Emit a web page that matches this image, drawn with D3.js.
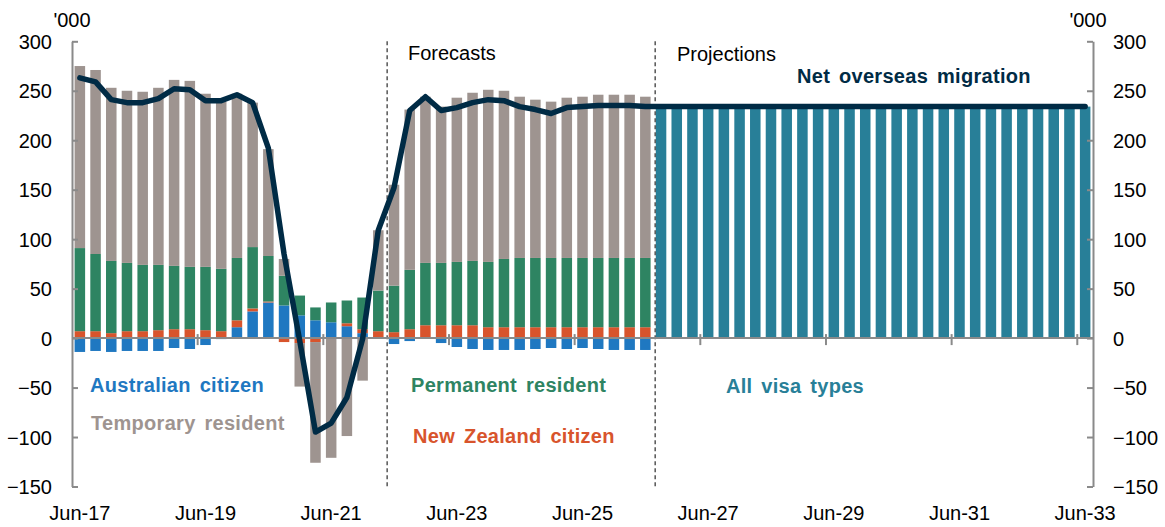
<!DOCTYPE html>
<html>
<head>
<meta charset="utf-8">
<script src="https://cdn.jsdelivr.net/npm/d3@7"></script>
<style>
  body { margin: 0; background: #fff; }
  text { font-family: "Liberation Sans", Arial, sans-serif; }
</style>
</head>
<body>
<div id="chart"></div>
<script>
// quarterly categories, Jun-17 .. Jun-33
var months = ["Jun", "Sep", "Dec", "Mar"]
var categories = []
for (var i = 0; i < 65; i++) {
  categories.push(months[i % 4] + "-" + (17 + Math.floor((i + 1) / 4)))
}
var xTickLabels = ["Jun-17", "Jun-19", "Jun-21", "Jun-23", "Jun-25", "Jun-27", "Jun-29", "Jun-31", "Jun-33"]
var yTicks = [-150, -100, -50, 0, 50, 100, 150, 200, 250, 300]

// components by visa type, '000 (Jun-17 .. Jun-26)
var ausCitizen = [-14, -13, -14, -13, -13, -13, -10, -11, -7, -1, 11, 27, 36, 33, 23, 18, 16, 12, 5, 0,
  -6, -3, 0, -5, -9, -11, -12, -12, -12, -11, -10, -11, -10, -11, -12, -12, -12]
var nzCitizen = [7, 7, 5, 7, 7, 8, 9, 9, 8, 7, 7, 3, 1, -4, -5, -4, 0, 3, 4, 7,
  6, 9, 13, 13, 13, 13, 11, 11, 11, 11, 11, 11, 11, 11, 11, 11, 11]
var permanent = [84, 78, 73, 69, 67, 66, 64, 63, 64, 63, 63, 62, 46, 30, 20, 13, 20, 23, 32, 41,
  47, 60, 63, 63, 64, 65, 66, 69, 70, 70, 70, 70, 70, 70, 70, 70, 70]
var temporary = [184, 186, 175, 174, 175, 179, 188, 188, 175, 169, 166, 146, 108, 17, -44, -122, -121, -99, -43, 61,
  102, 162, 168, 158, 166, 170, 174, 170, 163, 160, 158, 162, 163, 165, 165, 165, 163]
// projections, all visa types (Sep-26 .. Jun-33)
var allVisa = [234, 234, 234, 234, 234, 234, 234, 234, 234, 234, 234, 234, 234, 234,
  234, 234, 234, 234, 234, 234, 234, 234, 234, 234, 234, 234, 234, 234]
// net overseas migration line
var nom = [263, 259, 241, 238, 238, 242, 252, 251, 240, 240, 246, 238, 192, 85, -3, -95, -86, -60, -1, 109,
  152, 230, 244, 230, 233, 238, 241, 240, 234, 231, 227, 233, 234, 235, 235, 235, 234,
  234, 234, 234, 234, 234, 234, 234, 234, 234, 234, 234, 234, 234, 234,
  234, 234, 234, 234, 234, 234, 234, 234, 234, 234, 234, 234, 234, 234]

var nHist = ausCitizen.length
var rows = categories.map(function(c, i) {
  return {
    cat: c,
    aus: i < nHist ? ausCitizen[i] : 0,
    nz: i < nHist ? nzCitizen[i] : 0,
    perm: i < nHist ? permanent[i] : 0,
    temp: i < nHist ? temporary[i] : 0,
    all: i >= nHist ? allVisa[i - nHist] : 0
  }
})

var colors = {aus: "#1f78c1", nz: "#d8542c", perm: "#2e8462", temp: "#9e9490", all: "#287f98"}
var axisGrey = "#8a8a8a"
var navy = "#002b45"

var width = 1165, height = 527
var left = 72, right = 1093

var svg = d3.select("#chart").append("svg")
    .attr("width", width)
    .attr("height", height)

var x = d3.scaleBand()
    .domain(categories)
    .range([left, right])
    .paddingInner(0.33)
    .paddingOuter(0.165)

// category boundaries
var xl = d3.scaleLinear().domain([0, categories.length]).range([left, right])

var y = d3.scaleLinear().domain([-150, 300]).range([486.5, 41.3])

var series = d3.stack()
    .keys(["aus", "nz", "perm", "temp", "all"])
    .offset(d3.stackOffsetDiverging)(rows)

svg.selectAll("g.layer")
    .data(series)
  .enter().append("g")
    .attr("class", "layer")
    .attr("fill", function(d) { return colors[d.key] })
  .selectAll("rect")
    .data(function(d) { return d.filter(function(e) { return e[1] !== e[0] }) })
  .enter().append("rect")
    .attr("x", function(d) { return x(d.data.cat) })
    .attr("width", x.bandwidth())
    .attr("y", function(d) { return y(Math.max(d[0], d[1])) })
    .attr("height", function(d) { return Math.abs(y(d[0]) - y(d[1])) })

// forecast / projection dividers
var dividers = [{i: 20, dx: 1}, {i: 37, dx: 2}]
svg.selectAll("line.divider")
    .data(dividers)
  .enter().append("line")
    .attr("class", "divider")
    .attr("x1", function(d) { return xl(d.i) + d.dx })
    .attr("x2", function(d) { return xl(d.i) + d.dx })
    .attr("y1", y(300))
    .attr("y2", y(-150))
    .attr("stroke", "#555")
    .attr("stroke-width", 1.5)
    .attr("stroke-dasharray", "4,3")

// y axes
var yLeft = svg.append("g")
    .attr("transform", "translate(" + left + ",0)")
    .call(d3.axisLeft(y).tickValues(yTicks).tickSize(-6).tickSizeOuter(0).tickPadding(20))
var yRight = svg.append("g")
    .attr("transform", "translate(" + right + ",0)")
    .call(d3.axisRight(y).tickValues(yTicks).tickSize(-6).tickSizeOuter(0).tickPadding(20))

;[yLeft, yRight].forEach(function(g) {
  g.selectAll("path, line").attr("stroke", axisGrey).attr("stroke-width", 2)
  g.selectAll("text").attr("fill", "#000").style("font-size", "20px").attr("dy", "0.35em")
  g.attr("font-family", null)
})

// zero line with category ticks
svg.append("line")
    .attr("x1", xl(0))
    .attr("x2", xl(categories.length))
    .attr("y1", y(0))
    .attr("y2", y(0))
    .attr("stroke", axisGrey)
    .attr("stroke-width", 2)

svg.selectAll("line.xtick")
    .data(xTickLabels.slice(1))
  .enter().append("line")
    .attr("class", "xtick")
    .attr("x1", function(d) { return xl(categories.indexOf(d)) })
    .attr("x2", function(d) { return xl(categories.indexOf(d)) })
    .attr("y1", y(0) - 4)
    .attr("y2", y(0) + 7)
    .attr("stroke", axisGrey)
    .attr("stroke-width", 2)

svg.selectAll("text.xlabel")
    .data(xTickLabels)
  .enter().append("text")
    .attr("class", "xlabel")
    .attr("x", function(d) { return x(d) + x.bandwidth() / 2 })
    .attr("y", 520)
    .attr("text-anchor", "middle")
    .style("font-size", "20px")
    .text(function(d) { return d })

// net overseas migration line
var line = d3.line()
    .x(function(d, i) { return x(categories[i]) + x.bandwidth() / 2 })
    .y(function(d) { return y(d) })

svg.append("path")
    .datum(nom)
    .attr("d", line)
    .attr("fill", "none")
    .attr("stroke", navy)
    .attr("stroke-width", 5.5)
    .attr("stroke-linejoin", "round")
    .attr("stroke-linecap", "round")

// unit labels
svg.append("text").attr("x", left).attr("y", 27).attr("text-anchor", "middle")
    .style("font-size", "20px").text("'000")
svg.append("text").attr("x", right - 5).attr("y", 27).attr("text-anchor", "middle")
    .style("font-size", "20px").text("'000")

svg.append("text").attr("x", 408).attr("y", 60).style("font-size", "20px").text("Forecasts")
svg.append("text").attr("x", 677).attr("y", 61).style("font-size", "20px").text("Projections")

// series labels
var labels = [
  {text: "Net overseas migration", x: 797, y: 83, color: navy},
  {text: "Australian citizen", x: 90, y: 392, color: colors.aus},
  {text: "Temporary resident", x: 91, y: 430, color: colors.temp},
  {text: "Permanent resident", x: 411, y: 392, color: colors.perm},
  {text: "New Zealand citizen", x: 413, y: 443, color: colors.nz},
  {text: "All visa types", x: 726, y: 393, color: colors.all}
]
svg.selectAll("text.series")
    .data(labels)
  .enter().append("text")
    .attr("class", "series")
    .attr("x", function(d) { return d.x })
    .attr("y", function(d) { return d.y })
    .attr("fill", function(d) { return d.color })
    .style("font-size", "20px")
    .style("font-weight", "bold")
    .style("letter-spacing", "0.3px")
    .style("word-spacing", "3px")
    .text(function(d) { return d.text })
</script>
</body>
</html>
